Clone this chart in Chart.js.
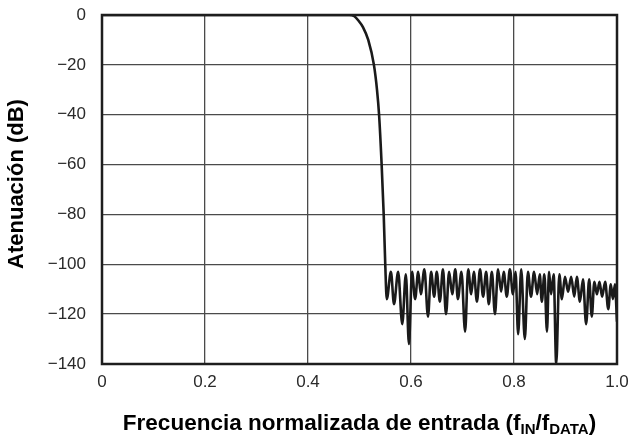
<!DOCTYPE html>
<html>
<head>
<meta charset="utf-8">
<script src="https://cdn.jsdelivr.net/npm/chart.js@4.4.1/dist/chart.umd.min.js"></script>
<style>
  html, body { margin: 0; padding: 0; background: #fff; }
  #wrap { width: 630px; height: 438px; }
</style>
</head>
<body>
<div id="wrap"><canvas id="filtroChart" width="630" height="438"></canvas></div>
<script>
// RESPUESTA DEL FILTRO --------------------------
const xTicks = [0, 0.2, 0.4, 0.6, 0.8, 1.0];
const yTicks = [0, -20, -40, -60, -80, -100, -120, -140];

// banda de paso y transicion
const freqPaso = [0, 0.48, 0.49, 0.497, 0.507, 0.517, 0.528, 0.534, 0.538, 0.543, 0.547, 0.550];
const atenPaso = [0, 0, -0.5, -2, -5, -10, -20, -30, -40, -60, -80, -100];

// banda de rechazo (valle, pico, valle, pico...)
const freqRechazo = [
    0.553, 0.561, 0.567, 0.575, 0.583, 0.590, 0.596, 0.602, 0.608, 0.614,
    0.619, 0.626, 0.633, 0.639, 0.645, 0.650, 0.656, 0.662, 0.668, 0.674,
    0.680, 0.686, 0.691, 0.698, 0.705, 0.711, 0.717, 0.722, 0.728, 0.734,
    0.740, 0.746, 0.751, 0.757, 0.763, 0.769, 0.775, 0.780, 0.786, 0.792,
    0.798, 0.803, 0.808, 0.814, 0.821, 0.827, 0.833, 0.839, 0.845, 0.850,
    0.854, 0.859, 0.864, 0.868, 0.872, 0.877, 0.882, 0.888, 0.893, 0.899,
    0.905, 0.911, 0.917, 0.922, 0.928, 0.934, 0.940, 0.946, 0.951, 0.956,
    0.961, 0.966, 0.971, 0.977, 0.983, 0.988, 0.992, 0.996, 1.000
];
const atenRechazo = [
    -114, -103, -116, -103, -124, -104, -132, -103, -114, -103,
    -112, -102, -121, -103, -113, -103, -115, -102, -120, -103,
    -112, -102, -114, -103, -127, -102, -112, -103, -115, -102,
    -113, -103, -116, -103, -120, -102, -111, -103, -113, -102,
    -112, -103, -128, -102, -130, -103, -113, -103, -112, -104,
    -115, -104, -127, -103, -112, -104, -140, -104, -114, -105,
    -111, -105, -113, -105, -115, -106, -124, -106, -121, -107,
    -112, -107, -113, -107, -118, -108, -114, -108, -123
];

const FONT = "'Liberation Sans', Arial, sans-serif";

const puntos = freqPaso.concat(freqRechazo).map((f, i) => ({
    x: f,
    y: atenPaso.concat(atenRechazo)[i]
}));

// marco y titulos con subindices
const marcoPlugin = {
    id: 'marco',
    afterDraw(chart) {
        const { ctx, chartArea: a } = chart;
        ctx.save();
        ctx.strokeStyle = '#1e1e1e';
        ctx.lineWidth = 2.5;
        ctx.strokeRect(a.left, a.top, a.right - a.left, a.bottom - a.top);

        ctx.fillStyle = '#000';
        // titulo eje y
        ctx.font = 'bold 22px ' + FONT;
        ctx.textAlign = 'center';
        ctx.textBaseline = 'middle';
        ctx.translate(17, 184);
        ctx.rotate(-Math.PI / 2);
        ctx.fillText('Atenuación (dB)', 0, 0);
        ctx.restore();

        // titulo eje x
        ctx.save();
        ctx.fillStyle = '#000';
        ctx.textBaseline = 'alphabetic';
        const partes = [
            ['Frecuencia normalizada de entrada (f', 22.5, 0],
            ['IN', 15, 4],
            ['/f', 22.5, 0],
            ['DATA', 15, 4],
            [')', 22.5, 0]
        ];
        let total = 0;
        partes.forEach(p => {
            ctx.font = 'bold ' + p[1] + 'px ' + FONT;
            total += ctx.measureText(p[0]).width;
        });
        let x = (a.left + a.right) / 2 - total / 2;
        const base = 430;
        partes.forEach(p => {
            ctx.font = 'bold ' + p[1] + 'px ' + FONT;
            ctx.textAlign = 'left';
            ctx.fillText(p[0], x, base + p[2]);
            x += ctx.measureText(p[0]).width;
        });
        ctx.restore();
    }
};

const config = {
    type: 'line',
    data: {
        datasets: [{
            label: 'Atenuación',
            data: puntos,
            borderColor: '#1a1a1a',
            borderWidth: 2.6,
            pointRadius: 0,
            fill: false,
            cubicInterpolationMode: 'monotone'
        }]
    },
    options: {
        responsive: false,
        animation: false,
        layout: { padding: { left: 0, right: 13, top: 15, bottom: 0 } },
        plugins: {
            legend: { display: false },
            tooltip: { enabled: false }
        },
        scales: {
            x: {
                type: 'linear',
                min: 0,
                max: 1,
                afterBuildTicks: (scale) => { scale.ticks = xTicks.map(v => ({ value: v })); },
                afterFit: (scale) => {
                    scale.height = 74;
                    scale.paddingLeft = 0;
                    scale.paddingRight = 0;
                },
                grid: { color: '#4a4a4a', lineWidth: 1.3, drawTicks: false },
                border: { display: false },
                ticks: {
                    padding: 8,
                    color: '#2a2a2a',
                    font: { family: FONT, size: 17 },
                    callback: (v) => v === 0 ? '0' : Number(v).toFixed(1)
                }
            },
            y: {
                type: 'linear',
                min: -140,
                max: 0,
                afterBuildTicks: (scale) => { scale.ticks = yTicks.map(v => ({ value: v })); },
                afterFit: (scale) => {
                    scale.width = 102;
                    scale.paddingTop = 0;
                    scale.paddingBottom = 0;
                },
                grid: { color: '#4a4a4a', lineWidth: 1.3, drawTicks: false },
                border: { display: false },
                ticks: {
                    padding: 16,
                    color: '#2a2a2a',
                    font: { family: FONT, size: 17 },
                    callback: (v) => v === 0 ? '0' : '\u2212' + Math.abs(v)
                }
            }
        }
    },
    plugins: [marcoPlugin]
};

document.addEventListener('DOMContentLoaded', () => {
    const ctx = document.getElementById('filtroChart').getContext('2d');
    new Chart(ctx, config);
});
</script>
</body>
</html>
